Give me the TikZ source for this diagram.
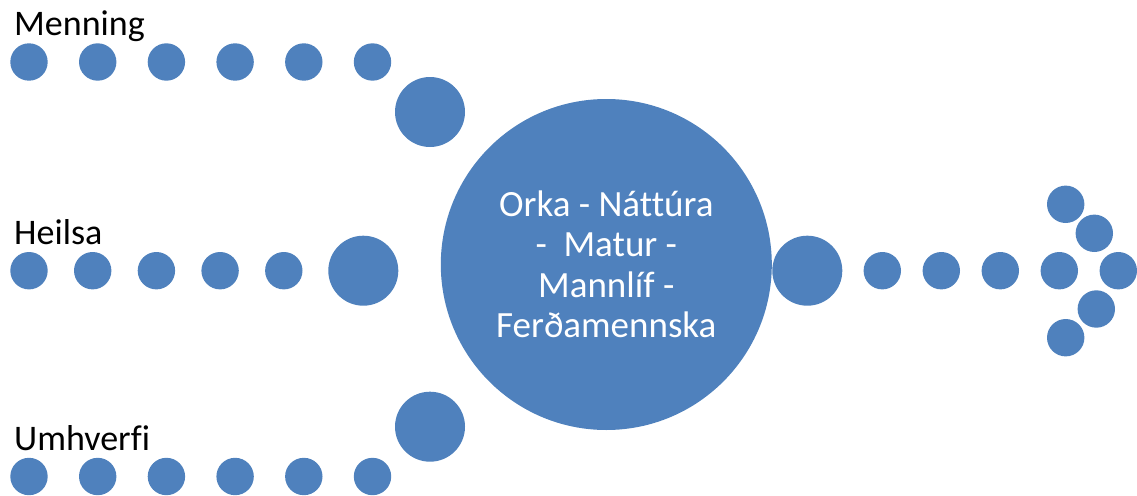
\documentclass[tikz,border=0pt]{standalone}
\usepackage{fontspec}
\setmainfont{Carlito}[Ligatures=NoCommon]
\definecolor{dotblue}{HTML}{4F81BD}
\tikzset{
	dot/.style={circle,fill=dotblue,inner sep=0pt,minimum size=37.4pt},
	bigdot/.style={circle,fill=dotblue,inner sep=0pt,minimum size=70pt},
	hub/.style={circle,fill=dotblue,inner sep=0pt,minimum size=331pt,text=white,align=center,font=\fontsize{37}{40.5}\selectfont},
	lbl/.style={anchor=base west,inner sep=0pt,font=\fontsize{36}{43}\selectfont}
}
\begin{document}
\begin{tikzpicture}[x=1pt,y=-1pt]
		\useasboundingbox (0,0) rectangle (1137,495);
		\node[lbl] (menning) at (14,36) {Menning};
		\node[lbl] (heilsa) at (14,244.3) {Heilsa};
		\node[lbl] (umhverfi) at (14,450) {Umhverfi};
		\foreach \i in {0,...,5} \node[dot] (m\i) at (29+68.7*\i,62) {};
		\foreach \i in {0,...,4} \node[dot] (h\i) at (29+63.7*\i,270.7) {};
		\foreach \i in {0,...,5} \node[dot] (u\i) at (29+68.7*\i,476.5) {};
		\node[bigdot] (mbig) at (430,112) {};
		\node[bigdot] (hbig) at (363.3,270.7) {};
		\node[bigdot] (ubig) at (430,426.7) {};
		\node[hub] (hub) at (606.3,264.5) {Orka - Náttúra\\-~ Matur -\\Mannlíf -\\Ferðamennska};
		\node[bigdot] (rbig) at (807.3,270.7) {};
		\foreach \i in {0,...,4} \node[dot] (r\i) at (882.3+59*\i,270.7) {};
		\node[dot] (tip1) at (1065.7,204.3) {};
		\node[dot] (tip2) at (1094.3,233.3) {};
		\node[dot] (tip3) at (1096.3,309) {};
		\node[dot] (tip4) at (1065.7,337.7) {};
\end{tikzpicture}
\end{document}
